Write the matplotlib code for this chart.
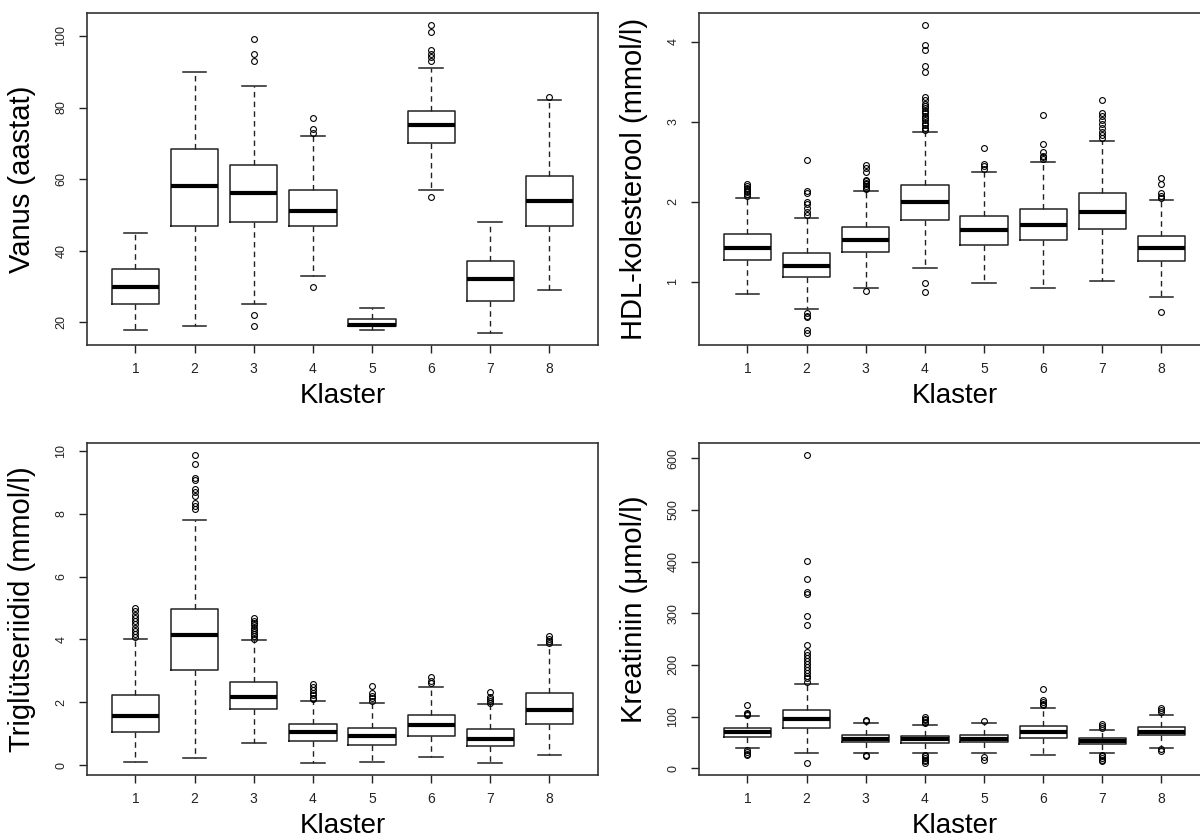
import numpy as np
from matplotlib import pyplot as plt

plt.rcParams["font.family"] = ["Liberation Sans", "DejaVu Sans"]

# cluster numbers on the x axis
clusters = [1, 2, 3, 4, 5, 6, 7, 8]

# Vanus (aastat)
age_whislo = [18, 19, 25, 33, 18, 57, 17, 29]
age_q1 = [25, 47, 48, 47, 19, 70, 26, 47]
age_med = [30, 58, 56, 51, 19.2, 75, 32, 54]
age_q3 = [35, 68.5, 64, 57, 21, 79, 37, 61]
age_whishi = [45, 90, 86, 72, 24, 91, 48, 82]
age_fliers = [
    [],
    [],
    [99, 95, 93, 22, 19],
    [77, 74, 73, 30],
    [],
    [103, 101, 96, 95, 94, 93, 55],
    [],
    [83],
]

# HDL-kolesterool (mmol/l)
hdl_whislo = [0.85, 0.66, 0.93, 1.17, 0.99, 0.93, 1.01, 0.81]
hdl_q1 = [1.27, 1.06, 1.38, 1.78, 1.46, 1.52, 1.66, 1.265]
hdl_med = [1.42, 1.20, 1.53, 2.00, 1.65, 1.71, 1.87, 1.42]
hdl_q3 = [1.60, 1.36, 1.69, 2.21, 1.83, 1.91, 2.11, 1.57]
hdl_whishi = [2.05, 1.80, 2.14, 2.88, 2.38, 2.50, 2.76, 2.03]
hdl_fliers = [
    [2.08, 2.10, 2.12, 2.14, 2.16, 2.18, 2.20, 2.22],
    [2.53, 2.14, 2.11, 2.00, 1.97, 1.93, 1.88, 1.84, 0.61, 0.58, 0.56, 0.40, 0.36],
    [2.46, 2.42, 2.37, 2.28, 2.26, 2.24, 2.22, 2.20, 2.18, 2.16, 0.89],
    [4.21, 3.96, 3.90, 3.70, 3.63, 3.31, 3.28, 3.23, 3.20, 3.17, 3.14, 3.11,
     3.08, 3.05, 3.02, 2.99, 2.96, 2.93, 2.90, 0.99, 0.87],
    [2.67, 2.48, 2.45, 2.41],
    [3.09, 2.73, 2.63, 2.58, 2.56, 2.54],
    [3.28, 3.11, 3.07, 3.03, 2.98, 2.93, 2.88, 2.84, 2.80],
    [2.30, 2.23, 2.11, 2.08, 2.05, 0.63],
]

# Triglütseriidid (mmol/l)
tg_whislo = [0.09, 0.24, 0.71, 0.06, 0.10, 0.27, 0.06, 0.33]
tg_q1 = [1.05, 3.04, 1.78, 0.77, 0.64, 0.94, 0.60, 1.30]
tg_med = [1.55, 4.14, 2.16, 1.05, 0.92, 1.26, 0.83, 1.75]
tg_q3 = [2.22, 4.97, 2.66, 1.32, 1.19, 1.58, 1.15, 2.31]
tg_whishi = [4.01, 7.79, 3.97, 2.05, 1.99, 2.49, 1.96, 3.83]
tg_fliers = [
    [5.00, 4.90, 4.79, 4.68, 4.58, 4.48, 4.38, 4.28, 4.18, 4.08],
    [9.87, 9.60, 9.15, 9.09, 8.80, 8.70, 8.56, 8.35, 8.24, 8.15],
    [4.68, 4.60, 4.52, 4.45, 4.38, 4.31, 4.24, 4.17, 4.10, 4.03],
    [2.58, 2.49, 2.38, 2.30, 2.22, 2.15, 2.10],
    [2.52, 2.28, 2.20, 2.12, 2.05],
    [2.79, 2.68, 2.60],
    [2.33, 2.17, 2.10, 2.03, 1.98],
    [4.10, 4.03, 3.96, 3.90],
]

# Kreatiniin (umol/l)
kr_whislo = [39, 29, 29, 29, 29, 26, 29, 40]
kr_q1 = [61, 77.5, 50, 49, 50, 58.6, 46.3, 64.5]
kr_med = [71, 95, 56.7, 56, 56.7, 69.7, 52.8, 71]
kr_q3 = [77.5, 112, 64.5, 63, 64.5, 81.4, 59.3, 79.5]
kr_whishi = [102, 163, 88, 84, 87, 117, 75, 104]
kr_fliers = [
    [122, 108, 105, 103, 36, 32, 28, 25],
    [606, 401, 366, 342, 337, 294, 278, 239, 226, 220, 214, 208, 202, 196,
     190, 184, 178, 174, 168, 10],
    [94, 91, 26, 23],
    [99, 96, 93, 90, 87, 26, 23, 20, 17, 14, 11],
    [92, 21, 17],
    [153, 133, 129, 125, 122],
    [86, 82, 79, 26, 23, 20, 17, 14],
    [116, 112, 109, 37, 34],
]

panels = [
    ("Vanus (aastat)", age_whislo, age_q1, age_med, age_q3, age_whishi, age_fliers,
     [20, 40, 60, 80, 100]),
    ("HDL-kolesterool (mmol/l)", hdl_whislo, hdl_q1, hdl_med, hdl_q3, hdl_whishi,
     hdl_fliers, [1, 2, 3, 4]),
    ("Triglütseriidid (mmol/l)", tg_whislo, tg_q1, tg_med, tg_q3, tg_whishi, tg_fliers,
     [0, 2, 4, 6, 8, 10]),
    ("Kreatiniin (μmol/l)", kr_whislo, kr_q1, kr_med, kr_q3, kr_whishi, kr_fliers,
     [0, 100, 200, 300, 400, 500, 600]),
]

# axes rectangles in figure fraction (R 2x2 layout, right edge cut off)
rects = [
    [0.0725, 0.5878, 0.4258, 0.3969],
    [0.5825, 0.5878, 0.4258, 0.3969],
    [0.0725, 0.0746, 0.4258, 0.3970],
    [0.5825, 0.0746, 0.4258, 0.3970],
]

fig = plt.figure(figsize=(12, 8.38), dpi=100)
line_col = "#222222"

for rect, (label, wlo, q1, med, q3, whi, fl, yt) in zip(rects, panels):
    ax = fig.add_axes(rect)
    stats = []
    for i in range(len(clusters)):
        stats.append(
            dict(whislo=wlo[i], q1=q1[i], med=med[i], q3=q3[i], whishi=whi[i],
                 fliers=fl[i])
        )
    ax.bxp(
        stats,
        positions=clusters,
        widths=0.8,
        capwidths=0.4,
        boxprops=dict(color=line_col, linewidth=1.1),
        whiskerprops=dict(color=line_col, linewidth=1.0, linestyle=(0, (4, 3))),
        capprops=dict(color=line_col, linewidth=1.1),
        medianprops=dict(color="black", linewidth=3.0, solid_capstyle="butt"),
        flierprops=dict(marker="o", markerfacecolor="none", markeredgecolor="black",
                        markersize=4.2, markeredgewidth=0.8, linestyle="none"),
    )

    # R style 4% padding around the data
    allv = wlo + whi + [v for f in fl for v in f]
    lo, hi = min(allv), max(allv)
    pad = 0.04 * (hi - lo)
    ax.set_ylim(lo - pad, hi + pad)
    ax.set_xlim(0.18, 8.82)

    ax.set_xticks(clusters)
    ax.set_xticklabels([str(c) for c in clusters])
    ax.set_yticks(yt)
    ax.set_yticklabels([str(v) for v in yt], rotation=90, va="center")

    ax.tick_params(axis="x", length=6, width=1, color=line_col, pad=6,
                   labelsize=10, labelcolor="#222222")
    ax.tick_params(axis="y", length=6, width=1, color=line_col, pad=8,
                   labelsize=9, labelcolor="#222222")
    for s in ax.spines.values():
        s.set_color("#333333")
        s.set_linewidth(1.2)

    ax.set_xlabel("Klaster", fontsize=20, va="center")
    ax.xaxis.set_label_coords(0.5, -0.153)
    ax.set_ylabel(label, fontsize=21, va="center")
    ax.yaxis.set_label_coords(-0.127, 0.5)

fig.savefig("out.png", dpi=100, facecolor="white")
